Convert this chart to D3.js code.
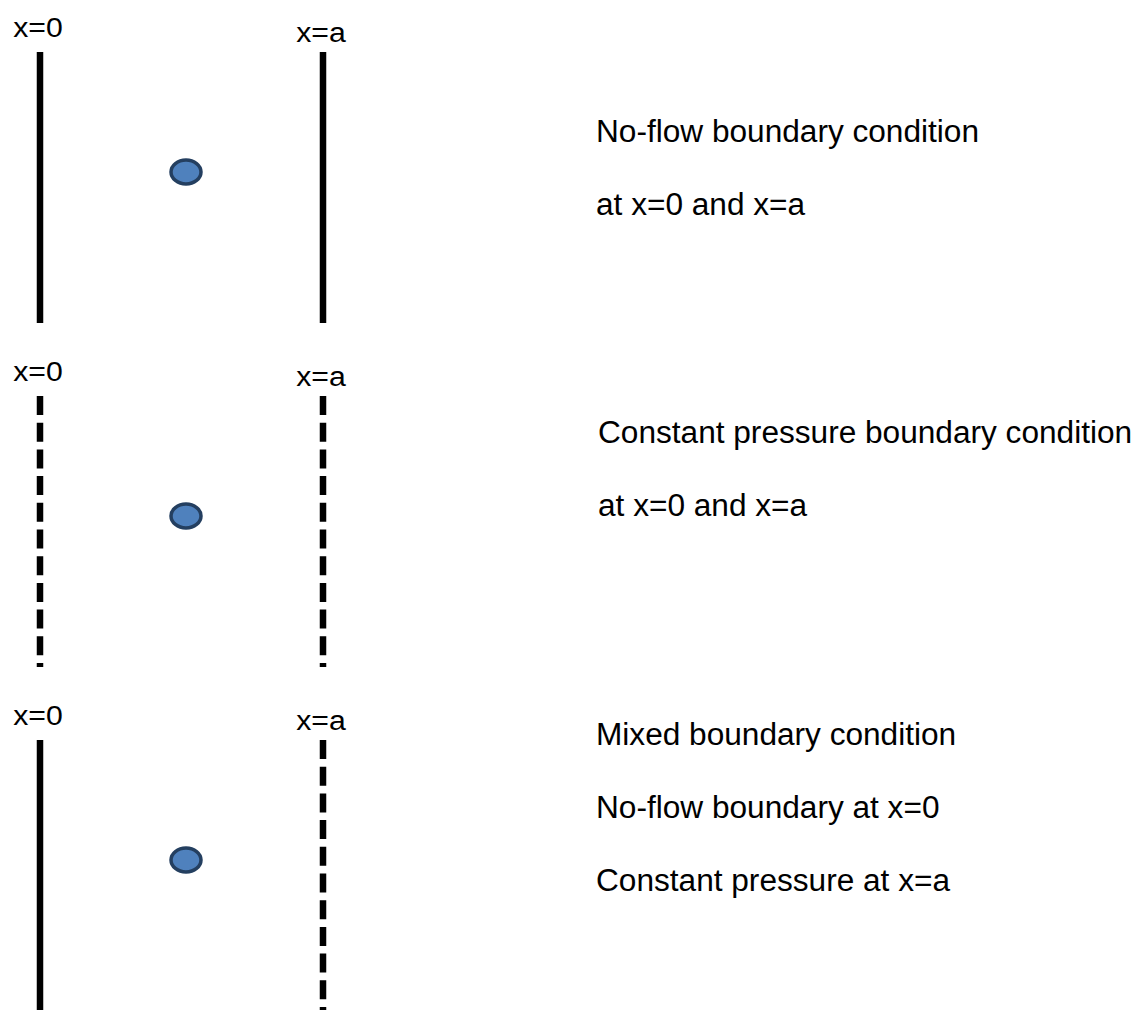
<!DOCTYPE html>
<html>
<head>
<meta charset="utf-8">
<script src="https://cdn.jsdelivr.net/npm/d3@7"></script>
<style>
  body { margin: 0; background: #fff; }
  svg { display: block; }
  text { font-family: "Liberation Sans", Arial, sans-serif; fill: #000; }
</style>
</head>
<body>
<script>
// boundary names (left, right) and type of each boundary per panel
const boundaries = ["x=0", "x=a"];
const leftTypes = ["no-flow", "pressure", "no-flow"];
const rightTypes = ["no-flow", "pressure", "pressure"];
const descriptions = [
    ["No-flow boundary condition", "at x=0 and x=a"],
    ["Constant pressure boundary condition", "at x=0 and x=a"],
    ["Mixed boundary condition", "No-flow boundary at x=0", "Constant pressure at x=a"]
];

const w = 1141;
const h = 1010;

const svg = d3.select("body")
    .append("svg")
    .attr("width", w)
    .attr("height", h);

// vertical placement of each panel
const panelY = d3.scaleLinear()
    .domain([0, 2])
    .range([52, 740]);

// horizontal placement of the two boundaries
const xPos = d3.scalePoint()
    .domain(boundaries)
    .range([40, 323]);

const lineLen = 271;
const textTop = [142, 443, 745];   // first baseline of each description block
const rowGap = 73;
// the original picture is a bit stretched sideways
const stretchText = 1.02;
const stretchLbl = 1.12;

const panels = d3.range(3).map(i => ({
    i: i,
    types: [leftTypes[i], rightTypes[i]],
    text: descriptions[i]
}));

const g = svg.selectAll("g.panel")
    .data(panels)
    .enter()
    .append("g")
    .attr("class", "panel")
    .attr("transform", d => "translate(0," + panelY(d.i) + ")");

// boundary lines: solid = no-flow, dashed = constant pressure
g.selectAll("line")
    .data(d => boundaries.map((b, j) => ({ b: b, type: d.types[j] })))
    .enter()
    .append("line")
    .attr("x1", d => xPos(d.b))
    .attr("x2", d => xPos(d.b))
    .attr("y1", 0)
    .attr("y2", lineLen)
    .attr("stroke", "#000")
    .attr("stroke-width", 6.5)
    .attr("stroke-dasharray", d => d.type === "pressure" ? "19 7.7" : null);

// boundary labels
g.selectAll("text.lbl")
    .data(boundaries)
    .enter()
    .append("text")
    .attr("class", "lbl")
    .attr("transform", (d, j) => "translate(" + (xPos(d) - 2) + "," + (j === 0 ? -15 : -10) + ") scale(" + stretchLbl + ",1)")
    .attr("text-anchor", "middle")
    .style("font-size", "27px")
    .text(d => d);

// well in the middle
g.append("ellipse")
    .attr("cx", 186)
    .attr("cy", 120)
    .attr("rx", 15)
    .attr("ry", 12)
    .attr("fill", "#4F81BD")
    .attr("stroke", "#243F60")
    .attr("stroke-width", 3.5);

// description text on the right
svg.selectAll("g.desc")
    .data(panels)
    .enter()
    .append("g")
    .attr("class", "desc")
    .selectAll("text")
    .data(d => d.text.map((t, k) => ({ t: t, k: k, i: d.i })))
    .enter()
    .append("text")
    .attr("transform", d => "translate(" + (d.i === 1 ? 598 : 596) + "," + (textTop[d.i] + d.k * rowGap) + ") scale(" + stretchText + ",1)")
    .style("font-size", "31px")
    .text(d => d.t);
</script>
</body>
</html>
